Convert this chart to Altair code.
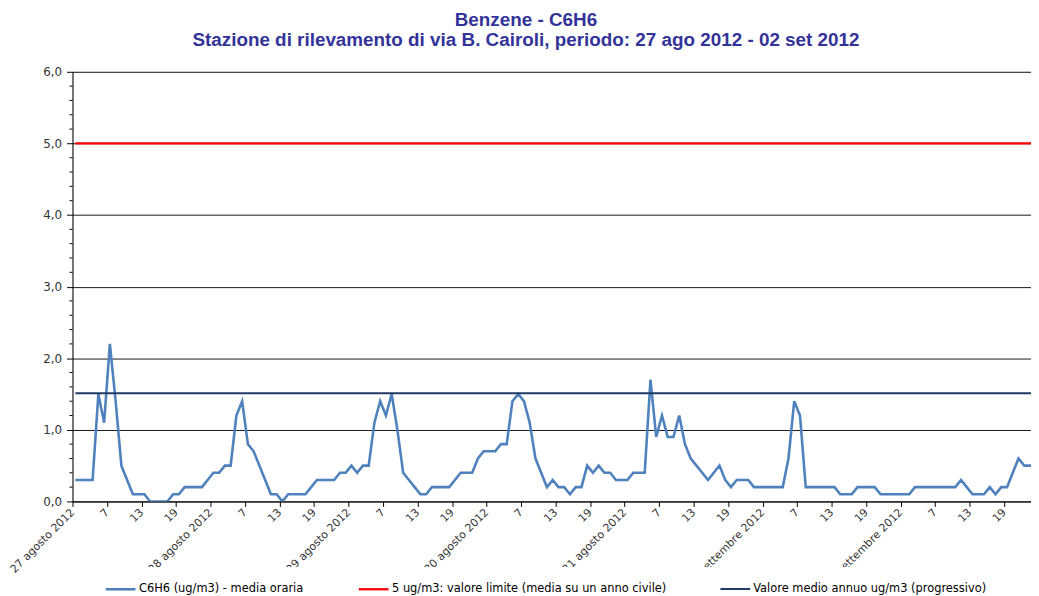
import json
import altair as alt
import pandas as pd

title_lines = [
    "Benzene - C6H6",
    "Stazione di rilevamento di via B. Cairoli, periodo: 27 ago 2012 - 02 set 2012",
]
days = ["27 agosto 2012", "28 agosto 2012", "29 agosto 2012", "30 agosto 2012",
        "31 agosto 2012", "01 settembre 2012", "02 settembre 2012"]
hour_labels = ["7", "13", "19"]
series_names = [
    "C6H6 (ug/m3)  - media oraria",
    "5 ug/m3: valore limite  (media su un anno civile)",
    "Valore medio annuo ug/m3 (progressivo)",
]
series_colors = ["#4f81bd", "#ff0000", "#1f3b63"]

# hourly values (hours 1..24 of each day)
day1 = [0.3, 0.3, 0.3, 0.3, 1.5, 1.1, 2.2, 1.4, 0.5, 0.3, 0.1, 0.1, 0.1, 0.0, 0.0, 0.0, 0.0, 0.1, 0.1, 0.2, 0.2, 0.2, 0.2, 0.3]
day2 = [0.4, 0.4, 0.5, 0.5, 1.2, 1.4, 0.8, 0.7, 0.5, 0.3, 0.1, 0.1, 0.0, 0.1, 0.1, 0.1, 0.1, 0.2, 0.3, 0.3, 0.3, 0.3, 0.4, 0.4]
day3 = [0.5, 0.4, 0.5, 0.5, 1.1, 1.4, 1.2, 1.5, 1.0, 0.4, 0.3, 0.2, 0.1, 0.1, 0.2, 0.2, 0.2, 0.2, 0.3, 0.4, 0.4, 0.4, 0.6, 0.7]
day4 = [0.7, 0.7, 0.8, 0.8, 1.4, 1.5, 1.4, 1.1, 0.6, 0.4, 0.2, 0.3, 0.2, 0.2, 0.1, 0.2, 0.2, 0.5, 0.4, 0.5, 0.4, 0.4, 0.3, 0.3]
day5 = [0.3, 0.4, 0.4, 0.4, 1.7, 0.9, 1.2, 0.9, 0.9, 1.2, 0.8, 0.6, 0.5, 0.4, 0.3, 0.4, 0.5, 0.3, 0.2, 0.3, 0.3, 0.3, 0.2, 0.2]
day6 = [0.2, 0.2, 0.2, 0.2, 0.6, 1.4, 1.2, 0.2, 0.2, 0.2, 0.2, 0.2, 0.2, 0.1, 0.1, 0.1, 0.2, 0.2, 0.2, 0.2, 0.1, 0.1, 0.1, 0.1]
day7 = [0.1, 0.1, 0.2, 0.2, 0.2, 0.2, 0.2, 0.2, 0.2, 0.2, 0.3, 0.2, 0.1, 0.1, 0.1, 0.2, 0.1, 0.2, 0.2, 0.4, 0.6, 0.5, 0.5, 0.5]
benzene = day1 + day2 + day3 + day4 + day5 + day6 + day7

limit_value = 5.0
annual_mean = 1.51
y_major = [0, 1, 2, 3, 4, 5, 6]
y_minor = [0.2, 0.4, 0.6, 0.8, 1.2, 1.4, 1.6, 1.8, 2.2, 2.4, 2.6, 2.8,
           3.2, 3.4, 3.6, 3.8, 4.2, 4.4, 4.6, 4.8, 5.2, 5.4, 5.6, 5.8]

tick_labels = []
for d in days:
    tick_labels += [d] + hour_labels
tick_positions = [6 * k for k in range(len(tick_labels))]
n = len(benzene)

rows = []
for i, v in enumerate(benzene):
    rows.append({"x": i + 0.5, "y": v, "serie": series_names[0]})
for xx in (0.5, n - 0.5):
    rows.append({"x": xx, "y": limit_value, "serie": series_names[1]})
for xx in (0.5, n - 0.5):
    rows.append({"x": xx, "y": annual_mean, "serie": series_names[2]})
df = pd.DataFrame(rows)

label_expr = json.dumps(tick_labels) + "[round(datum.value / 6)]"

x_enc = alt.X(
    "x:Q",
    scale=alt.Scale(domain=[0, 166.67], nice=False, zero=False),
    axis=alt.Axis(
        values=tick_positions, labelExpr=label_expr, title=None, grid=False,
        labelAngle=-45, labelAlign="right", labelBaseline="middle",
        labelFont="DejaVu Sans", labelFontSize=11, labelColor="#333333",
        labelPadding=4, labelOverlap=False, labelFlush=False, labelBound=False,
        labelLimit=300, tickSize=5, tickColor="black", domainColor="black",
        domainWidth=1, zindex=0,
    ),
)
y_enc = alt.Y(
    "y:Q",
    scale=alt.Scale(domain=[0, 6], nice=False),
    axis=alt.Axis(
        values=y_major, title=None, grid=True, gridColor="#1a1a1a", gridWidth=1,
        labelExpr="replace(format(datum.value, '.1f'), '.', ',')",
        labelFont="DejaVu Sans", labelFontSize=12, labelColor="#333333",
        labelPadding=5, tickSize=6, tickColor="black", domainColor="black",
        domainWidth=1, zindex=0,
    ),
)

lines = alt.Chart(df).mark_line(clip=True).encode(
    x=x_enc,
    y=y_enc,
    color=alt.Color(
        "serie:N",
        scale=alt.Scale(domain=series_names, range=series_colors),
        sort=series_names,
        legend=alt.Legend(
            title=None, orient="none", legendX=26, legendY=499,
            direction="horizontal", symbolType="stroke", symbolSize=900,
            symbolStrokeWidth=2.5, labelFont="DejaVu Sans", labelFontSize=11.5,
            labelColor="black", labelLimit=400, labelOffset=2,
            columnPadding=46, padding=6, fillColor="white", zindex=1,
        ),
    ),
    strokeWidth=alt.StrokeWidth(
        "serie:N",
        scale=alt.Scale(domain=series_names, range=[2.6, 2.0, 2.2]),
        legend=None,
    ),
)

minor = alt.Chart(pd.DataFrame({"y": y_minor})).mark_rule(
    color="black", strokeWidth=1
).encode(
    y=alt.Y("y:Q"),
    x=alt.value(-3),
    x2=alt.value(0),
)

chart = alt.layer(lines, minor).properties(
    width=966,
    height=433,
    title=alt.TitleParams(
        text=title_lines, font="Liberation Sans", fontSize=19, fontWeight="bold",
        color="#333399", anchor="middle", dx=-26, offset=16, lineHeight=20,
    ),
    autosize=alt.AutoSizeParams(type="none"),
    padding={"left": 65, "top": 62, "right": 0, "bottom": 93},
).configure_view(stroke=None).configure(background="white")

chart.save("out.html", embed_options={"renderer": "svg", "actions": False})
